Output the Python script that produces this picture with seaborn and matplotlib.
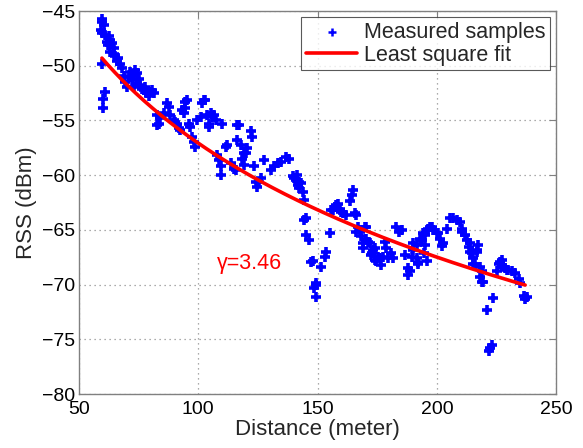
import numpy as np
import pandas as pd
import matplotlib
matplotlib.use("Agg")
import matplotlib.pyplot as plt
import seaborn as sns

# ---- data ----
distance = [
    59.5, 59.5, 59.1, 59.5, 61.0, 61.7, 63.0, 62.3, 63.8, 64.5, 63.0, 64.5, 59.5, 65.9, 67.3, 68.0,
    61.0, 60.2, 60.2, 62.5, 65.2, 66.5, 60.5,
    69.4, 70.8, 71.5, 72.2, 72.9, 73.6, 74.3, 74.3, 75.7, 76.4, 77.1, 77.8, 78.5, 79.2, 79.9, 80.6,
    81.3, 70.1, 68.7, 73.0, 75.0,
    82.7, 83.4, 82.7, 84.1, 86.9, 87.6, 85.5, 88.3, 89.7, 91.1, 91.8, 92.5, 93.9, 94.6, 95.3, 93.2,
    96.0, 97.4, 98.1, 98.8, 96.7, 99.6, 94.6, 90.4,
    101.0, 101.7, 102.4, 103.8, 104.5, 105.9, 106.6, 107.3, 110.1, 111.5, 108.0, 108.7, 109.4, 109.4,
    113.6, 115.0, 116.4, 116.4, 105.2, 104.5, 103.0, 112.2, 115.7,
    117.1, 122.0, 122.7, 117.8, 120.6, 119.2, 118.5, 119.2, 123.4, 124.1, 124.8, 126.2, 127.6, 130.4,
    131.8, 133.2, 134.6, 136.7, 138.1, 119.9, 125.5,
    139.5, 141.0, 141.6, 142.3, 143.0, 140.2, 143.8, 144.4, 144.4, 145.2, 145.2, 146.5, 147.3, 148.0,
    149.4, 148.7, 149.4, 149.4, 151.5, 152.9, 153.6, 155.0, 141.2, 142.0,
    155.7, 156.4, 157.1, 157.8, 158.5, 159.2, 159.9, 160.6, 162.0, 163.5, 164.9, 165.6, 166.2, 167.0,
    167.7, 168.4, 169.2, 169.8, 169.0, 166.2, 164.5,
    170.4, 170.4, 171.1, 171.8, 172.5, 173.2, 173.9, 174.6, 175.4, 176.0, 176.7, 177.4, 178.1, 178.8,
    179.5, 180.9, 181.6, 183.0, 185.2, 184.0, 186.6, 188.0, 188.7, 188.0, 189.4, 172.6, 174.0,
    190.1, 190.0, 191.5, 191.5, 192.2, 192.2, 192.9, 193.9, 194.3, 194.4, 195.0, 195.0, 195.7, 196.4,
    196.4, 197.1, 197.8, 198.5, 199.9, 200.6, 201.4, 202.0, 202.7,
    204.1, 205.5, 206.9, 208.3, 209.7, 210.4, 210.4, 211.9, 212.5, 213.3, 213.9, 213.9, 214.6, 215.3,
    216.0, 217.4, 216.7, 216.7, 218.1, 218.8, 218.1, 218.8, 219.5, 215.3,
    221.0, 223.7, 222.3, 221.7, 223.0, 225.2, 226.6, 227.3, 228.7, 230.0, 231.5, 232.9, 234.3, 235.0,
    236.4, 237.1, 237.8, 225.9, 227.3, 229.4,
]
rss = [
    -45.7, -46.0, -46.7, -47.0, -47.2, -47.8, -47.65, -48.1, -47.95, -48.4, -48.7, -48.9, -49.8, -49.6, -49.8, -50.2,
    -52.4, -53.0, -53.9, -47.3, -49.1, -49.3, -46.3,
    -51.45, -51.0, -50.55, -51.3, -50.85, -50.4, -50.7, -51.6, -51.8, -52.1, -52.2, -51.9, -52.5, -52.8, -52.4, -52.2,
    -52.5, -51.9, -50.9, -51.9, -51.2,
    -54.5, -55.3, -55.4, -54.8, -53.4, -53.75, -54.35, -54.5, -55.0, -55.3, -55.7, -55.9, -54.35, -53.9, -53.1, -54.05,
    -55.3, -56.5, -56.95, -57.4, -55.6, -55.0, -53.3, -55.1,
    -54.7, -53.4, -53.1, -54.5, -55.3, -54.7, -54.5, -55.0, -55.3, -57.4, -58.2, -58.6, -59.2, -60.0,
    -58.9, -59.4, -55.4, -56.8, -54.35, -55.6, -53.1, -57.25, -59.5,
    -55.4, -56.0, -56.5, -57.25, -57.55, -58.0, -58.5, -59.1, -59.2, -60.6, -61.05, -60.3, -58.6, -59.5,
    -59.2, -58.9, -58.8, -58.3, -58.5, -58.0, -60.6,
    -60.1, -60.45, -60.9, -61.2, -60.75, -60.3, -61.5, -62.3, -64.1, -65.5, -63.95, -65.9, -67.9, -67.8,
    -69.9, -70.35, -71.1, -70.05, -68.4, -67.45, -67.0, -65.3, -60.0, -60.6,
    -63.2, -63.2, -62.9, -62.75, -62.6, -63.05, -63.35, -63.5, -63.65, -62.4, -61.35, -63.5, -63.65, -64.7,
    -65.2, -65.6, -66.2, -64.7, -66.7, -65.2, -61.8,
    -64.7, -65.8, -66.1, -66.2, -67.3, -66.85, -66.7, -67.8, -67.45, -67.6, -68.2, -67.45, -66.1, -66.7,
    -67.6, -67.15, -67.6, -64.7, -65.0, -65.2, -67.3, -68.5, -68.8, -69.1, -67.45, -67.15, -67.75,
    -66.85, -66.2, -66.4, -67.6, -67.9, -68.1, -65.8, -65.9, -65.3, -67.15, -65.5, -66.4, -67.8, -65.0,
    -64.9, -64.7, -64.7, -65.0, -65.3, -65.3, -65.8, -66.5, -66.2,
    -64.9, -63.95, -63.95, -64.1, -64.25, -64.9, -65.15, -65.5, -65.9, -66.55, -66.2, -67.0, -67.15, -67.6,
    -68.1, -66.4, -66.85, -67.0, -68.4, -68.8, -69.3, -69.75, -69.75, -68.1,
    -72.3, -71.25, -75.8, -76.1, -75.5, -68.8, -67.9, -68.2, -68.5, -68.7, -68.8, -68.95, -69.45, -69.9,
    -71.0, -71.3, -71.1, -68.1, -67.75, -68.7,
]
gamma = 3.46          # path-loss exponent shown on the chart
fit_ref_d = 59.6      # distance where the fit starts
fit_ref_rss = -49.3   # RSS of the fit at that distance
x_ticks = [50, 100, 150, 200, 250]
y_ticks = [-80, -75, -70, -65, -60, -55, -50, -45]

samples = pd.DataFrame({"Distance": distance, "RSS": rss})
d_fit = np.linspace(fit_ref_d, max(distance) - 0.8, 200)
fit = pd.DataFrame({"Distance": d_fit,
                    "RSS": fit_ref_rss - 10 * gamma * np.log10(d_fit / fit_ref_d)})

sns.set_style("white")
plt.rcParams["font.family"] = ["Liberation Sans", "DejaVu Sans"]

fig = plt.figure(figsize=(5.83, 4.48), dpi=100)
ax = fig.add_axes([0.1355, 0.1205, 0.954 - 0.1355, 0.9754 - 0.1205])

sns.scatterplot(data=samples, x="Distance", y="RSS", marker="+", s=48, color="#0000ff",
                linewidth=2.6, ax=ax, label="Measured samples", zorder=3)
sns.lineplot(data=fit, x="Distance", y="RSS", color="#ff0000", linewidth=2.6, ax=ax,
             label="Least square fit", zorder=4)

ax.text(121.6, -68.1, "γ=3.46", color="#ff0000", fontsize=15.5, ha="center", va="center")

ax.set_xlim(50, 250)
ax.set_ylim(-80, -45)
ax.set_xticks(x_ticks)
ax.set_yticks(y_ticks)
ax.grid(True, linestyle=(0, (1, 3)), color="#909090", linewidth=0.9)
for sp in ax.spines.values():
    sp.set_visible(True)
    sp.set_color("#808080")
    sp.set_linewidth(1.0)
ax.tick_params(direction="in", length=5, width=0.8, color="#808080", labelsize=14,
               labelcolor="black", top=True, right=True, pad=3)
ax.tick_params(axis="x", pad=5)
ax.set_xlabel("Distance (meter)", fontsize=16, labelpad=1)
ax.set_ylabel("RSS (dBm)", fontsize=16, labelpad=3)

leg = ax.legend(loc="upper right", fontsize=15.5, frameon=True, fancybox=False,
                borderaxespad=0.3, handlelength=2.4, markerscale=0.75,
                borderpad=0.2, labelspacing=0.1, handletextpad=0.3)
leg.get_frame().set_edgecolor("#303030")
leg.get_frame().set_linewidth(0.8)
leg.legend_handles[0].set_linewidths([1.8])

fig.savefig("out.png", dpi=100)
